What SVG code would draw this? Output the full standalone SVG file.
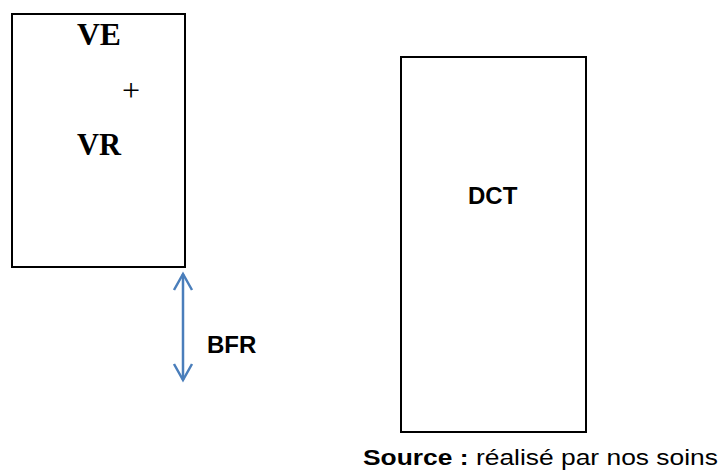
<svg xmlns="http://www.w3.org/2000/svg" width="721" height="476" viewBox="0 0 721 476">
<style>
.box{fill:#fff;stroke:#000;stroke-width:2}
.tr{font-family:"Liberation Serif",serif;font-weight:bold;font-size:32px;fill:#000}
.sb{font-family:"Liberation Sans",Arial,sans-serif;font-weight:bold;font-size:24px;fill:#000}
.cb{font-family:"Liberation Sans",Arial,sans-serif;font-weight:bold;font-size:22px;fill:#000}
.cn{font-family:"Liberation Sans",Arial,sans-serif;font-size:22px;fill:#000}
.conn{stroke:#4a7ebb;stroke-width:2.5;fill:none}
</style>
<rect width="721" height="476" fill="#fff"/>
<g id="node-ve-vr">
<rect class="box" x="12" y="14" width="173" height="253"/>
<text class="tr" x="77" y="45" textLength="44" lengthAdjust="spacingAndGlyphs">VE</text>
<text x="122" y="101" font-family="Liberation Serif, serif" font-size="32">+</text>
<text class="tr" x="77" y="155" textLength="44" lengthAdjust="spacingAndGlyphs">VR</text>
</g>
<g id="node-dct">
<rect class="box" x="401" y="57" width="185" height="375"/>
<text class="sb" x="468" y="204">DCT</text>
</g>
<g id="connectors">
<line class="conn" x1="183" y1="274" x2="183" y2="380"/>
<polyline class="conn" points="174,290 183,274 192,290"/>
<polyline class="conn" points="174,364 183,380 192,364"/>
<text class="sb" x="207" y="353">BFR</text>
</g>
<g id="caption">
<text x="363" y="465" textLength="355" lengthAdjust="spacingAndGlyphs"><tspan class="cb">Source :</tspan><tspan class="cn"> réalisé par nos soins</tspan></text>
</g>
</svg>
